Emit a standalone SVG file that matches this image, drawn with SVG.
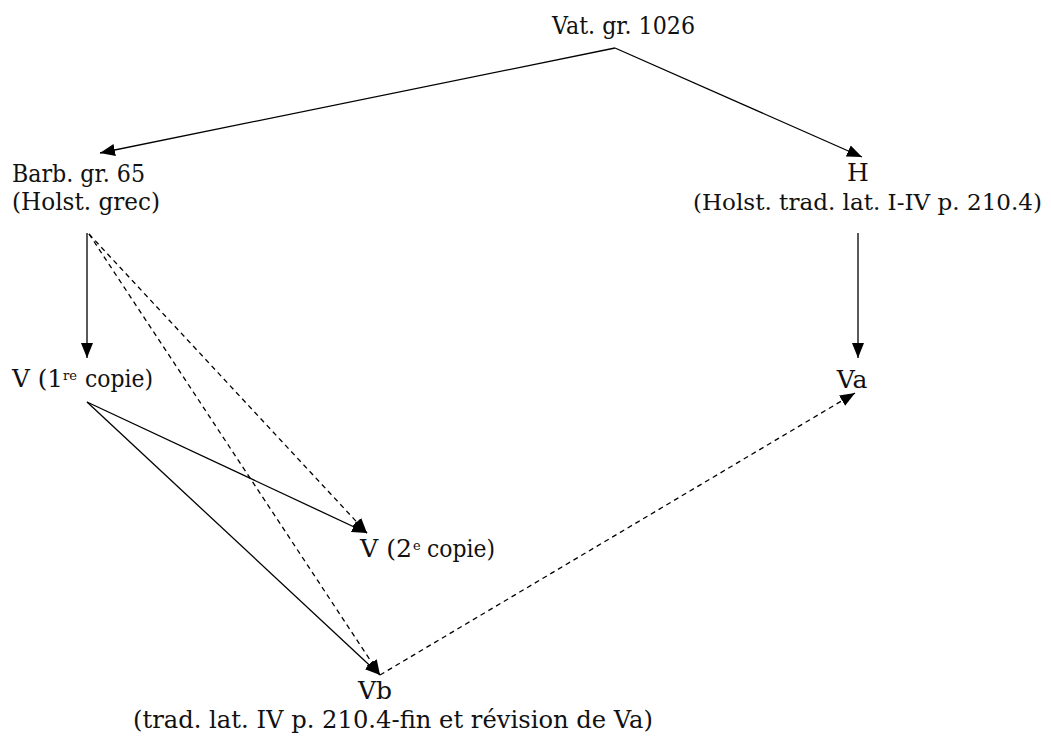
<svg xmlns="http://www.w3.org/2000/svg" width="1051" height="740" viewBox="0 0 1051 740">
<style>
text{font-family:'DejaVu Serif','Liberation Serif',serif;font-size:25px;fill:#111}
.e{fill:none;stroke:#000;stroke-width:1.3}
.d{stroke-dasharray:5,4}
.sup{font-size:13px}
</style>
<defs>
<marker id="ah" markerWidth="15" markerHeight="12" refX="15" refY="6" orient="auto" markerUnits="userSpaceOnUse"><path d="M0,0 L15,6 L0,12 z" fill="#000"/></marker>
</defs>
<rect width="1051" height="740" fill="#fff"/>
<g id="connectors">
<path class="e" d="M615,48 L100,153" marker-end="url(#ah)"/>
<path class="e" d="M615,48 L862,157" marker-end="url(#ah)"/>
<path class="e" d="M87,233 L87,358" marker-end="url(#ah)"/>
<path class="e" d="M858,233 L858,358" marker-end="url(#ah)"/>
<path class="e" d="M87,402 L367,533" marker-end="url(#ah)"/>
<path class="e" d="M87,402 L380,675" marker-end="url(#ah)"/>
<path class="e d" d="M89,234 L367,533" marker-end="url(#ah)"/>
<path class="e d" d="M89,234 L380,675" marker-end="url(#ah)"/>
<path class="e d" d="M380,675 L855,393" marker-end="url(#ah)"/>
</g>
<g id="vat"><text x="552" y="34" textLength="143" lengthAdjust="spacingAndGlyphs">Vat. gr. 1026</text></g>
<g id="barb"><text x="12" y="182" textLength="133" lengthAdjust="spacingAndGlyphs">Barb. gr. 65</text><text x="12" y="210" textLength="148" lengthAdjust="spacingAndGlyphs">(Holst. grec)</text></g>
<g id="h"><text x="858" y="181" text-anchor="middle">H</text><text x="693" y="210" font-size="23" style="font-size:23px" textLength="349" lengthAdjust="spacingAndGlyphs">(Holst. trad. lat. I-IV p. 210.4)</text></g>
<g id="v1"><text x="12" y="387" textLength="51" lengthAdjust="spacingAndGlyphs">V (1</text><text class="sup" x="63" y="380" textLength="14" lengthAdjust="spacingAndGlyphs">re</text><text x="85" y="387" textLength="68" lengthAdjust="spacingAndGlyphs">copie)</text></g>
<g id="va"><text x="852" y="388" text-anchor="middle">Va</text></g>
<g id="v2"><text x="360" y="557" textLength="52" lengthAdjust="spacingAndGlyphs">V (2</text><text class="sup" x="413" y="550">e</text><text x="427" y="557" textLength="68" lengthAdjust="spacingAndGlyphs">copie)</text></g>
<g id="vb"><text x="375" y="699" text-anchor="middle">Vb</text><text x="133" y="728" textLength="520" lengthAdjust="spacingAndGlyphs">(trad. lat. IV p. 210.4-fin et révision de Va)</text></g>
</svg>
